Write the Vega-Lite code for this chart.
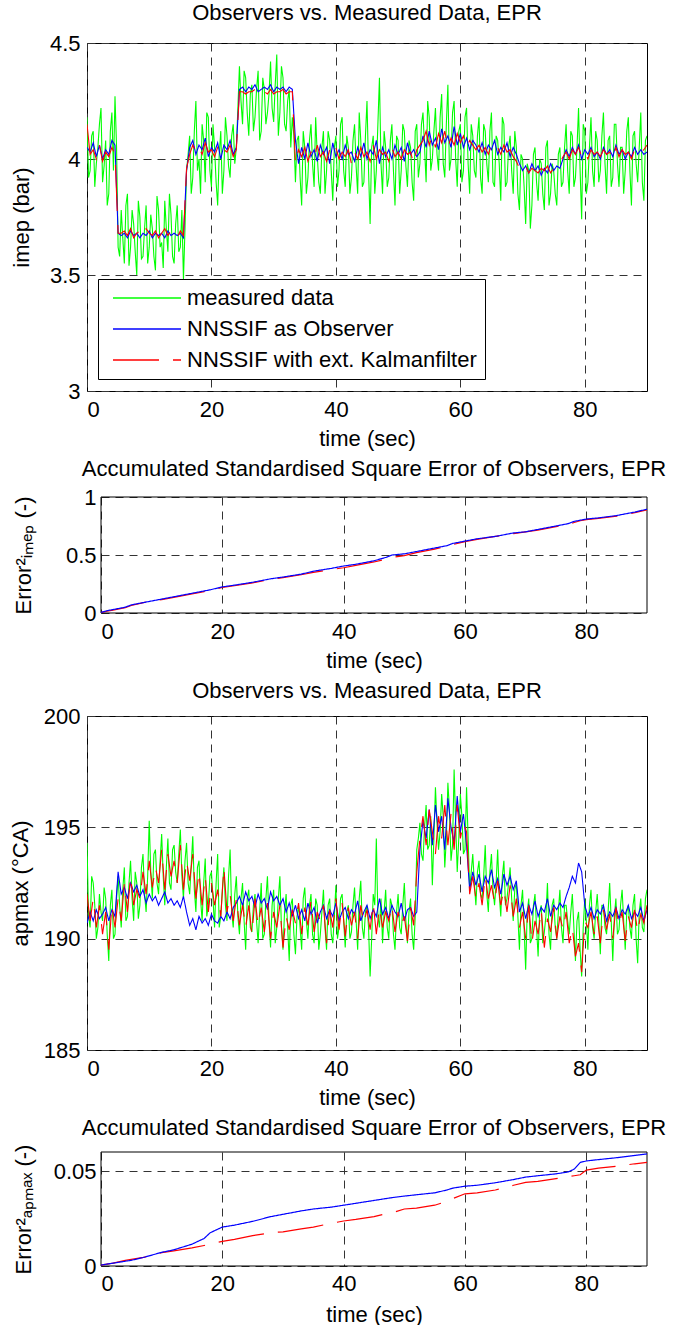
{
"$schema": "https://vega.github.io/schema/vega-lite/v6.json",
"padding": {"left": 8, "top": 1, "right": 0, "bottom": 0},
"background": "white",
"config": {
  "font": "Liberation Sans",
  "view": {"stroke": "black", "strokeWidth": 1},
  "mark": {"invalid": "filter"},
  "axis": {"labelFontSize": 22, "titleFontSize": 22, "titleFontWeight": "normal", "labelColor": "black", "titleColor": "black", "gridColor": "#333333", "gridDash": [8, 6], "gridWidth": 1, "gridOpacity": 1, "ticks": false, "domain": false, "labelFont": "Liberation Sans", "titleFont": "Liberation Sans"},
  "title": {"fontSize": 22, "fontWeight": "normal", "color": "black", "frame": "group", "offset": 5, "font": "Liberation Sans"}
},
"datasets": {
"obs": [
{"t":0,"im":4.18,"io":4.05,"ik":4.15,"am":194.3,"ao":190.7,"ak":192.0},
{"t":0.5,"im":3.95,"io":4.03,"ik":4.02,"am":190.5,"ao":191.2,"ak":190.8},
{"t":1,"im":4.12,"io":4.07,"ik":4.04,"am":192.5,"ao":190.8,"ak":191.8},
{"t":1.5,"im":3.98,"io":4.01,"ik":4.00,"am":190.0,"ao":191.3,"ak":190.5},
{"t":2,"im":4.15,"io":4.06,"ik":4.06,"am":192.0,"ao":190.9,"ak":191.5},
{"t":2.5,"im":3.90,"io":4.00,"ik":3.99,"am":190.8,"ao":191.1,"ak":190.2},
{"t":3,"im":4.08,"io":4.04,"ik":4.03,"am":191.8,"ao":191.4,"ak":191.2},
{"t":3.5,"im":3.85,"io":4.02,"ik":4.01,"am":189.0,"ao":190.8,"ak":189.5},
{"t":4,"im":4.20,"io":4.08,"ik":4.05,"am":192.2,"ao":191.3,"ak":191.5},
{"t":4.5,"im":4.27,"io":4.06,"ik":4.02,"am":190.2,"ao":191.0,"ak":190.5},
{"t":5,"im":3.62,"io":3.68,"ik":3.68,"am":192.8,"ao":193.0,"ak":191.8},
{"t":5.5,"im":3.78,"io":3.67,"ik":3.68,"am":190.5,"ao":192.0,"ak":190.8},
{"t":6,"im":3.55,"io":3.68,"ik":3.69,"am":193.2,"ao":192.3,"ak":192.5},
{"t":6.5,"im":3.85,"io":3.66,"ik":3.67,"am":191.0,"ao":191.8,"ak":191.2},
{"t":7,"im":3.62,"io":3.69,"ik":3.70,"am":193.5,"ao":192.5,"ak":192.8},
{"t":7.5,"im":3.72,"io":3.67,"ik":3.66,"am":190.8,"ao":192.1,"ak":191.5},
{"t":8,"im":3.50,"io":3.68,"ik":3.68,"am":192.5,"ao":192.4,"ak":192.2},
{"t":8.5,"im":3.75,"io":3.66,"ik":3.69,"am":191.5,"ao":191.9,"ak":191.8},
{"t":9,"im":3.58,"io":3.68,"ik":3.67,"am":193.8,"ao":192.2,"ak":193.0},
{"t":9.5,"im":3.80,"io":3.67,"ik":3.70,"am":191.2,"ao":191.6,"ak":192.0},
{"t":10,"im":3.62,"io":3.69,"ik":3.68,"am":195.3,"ao":192.0,"ak":193.5},
{"t":10.5,"im":3.70,"io":3.66,"ik":3.67,"am":191.8,"ao":191.7,"ak":192.3},
{"t":11,"im":3.52,"io":3.68,"ik":3.69,"am":194.0,"ao":191.9,"ak":193.2},
{"t":11.5,"im":3.78,"io":3.67,"ik":3.66,"am":192.0,"ao":191.5,"ak":192.5},
{"t":12,"im":3.64,"io":3.68,"ik":3.68,"am":194.7,"ao":191.8,"ak":194.0},
{"t":12.5,"im":3.82,"io":3.66,"ik":3.70,"am":191.5,"ao":192.1,"ak":192.2},
{"t":13,"im":3.60,"io":3.69,"ik":3.67,"am":194.5,"ao":191.6,"ak":193.8},
{"t":13.5,"im":3.76,"io":3.67,"ik":3.69,"am":192.2,"ao":191.8,"ak":192.8},
{"t":14,"im":3.55,"io":3.68,"ik":3.68,"am":194.2,"ao":191.5,"ak":193.5},
{"t":14.5,"im":3.80,"io":3.67,"ik":3.66,"am":192.5,"ao":191.7,"ak":192.5},
{"t":15,"im":3.62,"io":3.68,"ik":3.69,"am":194.9,"ao":191.4,"ak":194.2},
{"t":15.5,"im":3.48,"io":3.66,"ik":3.67,"am":191.8,"ao":191.9,"ak":192.2},
{"t":16,"im":3.95,"io":3.95,"ik":3.96,"am":194.3,"ao":191.2,"ak":193.5},
{"t":16.5,"im":4.10,"io":4.05,"ik":4.02,"am":192.0,"ao":190.6,"ak":192.6},
{"t":17,"im":3.92,"io":4.08,"ik":4.06,"am":194.6,"ao":190.9,"ak":193.8},
{"t":17.5,"im":4.25,"io":4.02,"ik":4.03,"am":191.2,"ao":190.4,"ak":191.8},
{"t":18,"im":4.00,"io":4.06,"ik":4.05,"am":193.5,"ao":191.0,"ak":193.0},
{"t":18.5,"im":4.15,"io":4.04,"ik":4.02,"am":190.8,"ao":190.7,"ak":191.5},
{"t":19,"im":3.90,"io":4.09,"ik":4.07,"am":193.6,"ao":190.9,"ak":192.8},
{"t":19.5,"im":4.18,"io":4.01,"ik":4.03,"am":191.5,"ao":190.6,"ak":191.2},
{"t":20,"im":3.88,"io":4.05,"ik":4.04,"am":193.0,"ao":191.1,"ak":192.5},
{"t":20.5,"im":4.05,"io":4.03,"ik":4.01,"am":190.5,"ao":190.8,"ak":191.5},
{"t":21,"im":3.80,"io":4.07,"ik":4.05,"am":193.8,"ao":190.7,"ak":192.2},
{"t":21.5,"im":4.12,"io":4.00,"ik":4.02,"am":191.0,"ao":191.0,"ak":191.0},
{"t":22,"im":3.95,"io":4.06,"ik":4.04,"am":193.2,"ao":190.8,"ak":193.2},
{"t":22.5,"im":4.10,"io":4.04,"ik":4.03,"am":190.8,"ao":191.2,"ak":191.2},
{"t":23,"im":3.92,"io":4.08,"ik":4.06,"am":194.0,"ao":190.9,"ak":192.0},
{"t":23.5,"im":4.15,"io":4.02,"ik":4.01,"am":190.5,"ao":191.4,"ak":190.8},
{"t":24,"im":4.05,"io":4.05,"ik":4.04,"am":192.8,"ao":191.6,"ak":191.8},
{"t":24.5,"im":4.40,"io":4.30,"ik":4.29,"am":190.2,"ao":191.9,"ak":190.6},
{"t":25,"im":4.15,"io":4.31,"ik":4.29,"am":192.5,"ao":191.5,"ak":191.5},
{"t":25.5,"im":4.35,"io":4.29,"ik":4.28,"am":189.5,"ao":192.1,"ak":190.5},
{"t":26,"im":4.10,"io":4.31,"ik":4.29,"am":192.2,"ao":191.7,"ak":191.5},
{"t":26.5,"im":4.32,"io":4.30,"ik":4.29,"am":190.3,"ao":191.9,"ak":190.2},
{"t":27,"im":4.18,"io":4.32,"ik":4.30,"am":192.0,"ao":191.4,"ak":191.8},
{"t":27.5,"im":4.38,"io":4.29,"ik":4.28,"am":189.8,"ao":192.0,"ak":190.6},
{"t":28,"im":4.12,"io":4.30,"ik":4.29,"am":192.5,"ao":191.6,"ak":191.4},
{"t":28.5,"im":4.30,"io":4.31,"ik":4.29,"am":190.2,"ao":191.8,"ak":190.3},
{"t":29,"im":4.20,"io":4.30,"ik":4.28,"am":192.8,"ao":191.3,"ak":191.6},
{"t":29.5,"im":4.42,"io":4.32,"ik":4.30,"am":189.6,"ao":192.1,"ak":190.0},
{"t":30,"im":4.16,"io":4.29,"ik":4.28,"am":192.2,"ao":191.7,"ak":191.2},
{"t":30.5,"im":4.45,"io":4.31,"ik":4.29,"am":190.5,"ao":191.9,"ak":190.5},
{"t":31,"im":4.20,"io":4.30,"ik":4.29,"am":192.8,"ao":191.5,"ak":191.5},
{"t":31.5,"im":4.35,"io":4.31,"ik":4.30,"am":189.5,"ao":191.8,"ak":189.6},
{"t":32,"im":4.12,"io":4.29,"ik":4.28,"am":192.0,"ao":191.2,"ak":191.0},
{"t":32.5,"im":4.30,"io":4.31,"ik":4.29,"am":189.0,"ao":191.6,"ak":190.4},
{"t":33,"im":4.18,"io":4.30,"ik":4.29,"am":191.8,"ao":191.0,"ak":191.3},
{"t":33.5,"im":3.90,"io":4.08,"ik":3.98,"am":189.3,"ao":191.5,"ak":190.7},
{"t":34,"im":4.10,"io":3.98,"ik":4.04,"am":191.5,"ao":190.9,"ak":191.6},
{"t":34.5,"im":3.80,"io":4.05,"ik":4.01,"am":189.5,"ao":191.3,"ak":190.2},
{"t":35,"im":4.05,"io":4.00,"ik":4.05,"am":192.3,"ao":190.8,"ak":191.4},
{"t":35.5,"im":3.92,"io":4.07,"ik":3.99,"am":190.0,"ao":191.6,"ak":190.6},
{"t":36,"im":4.15,"io":4.01,"ik":4.03,"am":192.0,"ao":191.1,"ak":191.7},
{"t":36.5,"im":3.88,"io":4.04,"ik":4.00,"am":189.8,"ao":191.4,"ak":190.3},
{"t":37,"im":4.02,"io":3.99,"ik":4.06,"am":191.5,"ao":190.7,"ak":191.2},
{"t":37.5,"im":3.85,"io":4.06,"ik":4.01,"am":190.2,"ao":191.2,"ak":190.8},
{"t":38,"im":4.12,"io":4.02,"ik":4.03,"am":192.2,"ao":191.5,"ak":191.5},
{"t":38.5,"im":3.95,"io":4.05,"ik":3.99,"am":189.5,"ao":190.9,"ak":189.8},
{"t":39,"im":4.08,"io":3.98,"ik":4.04,"am":191.8,"ao":191.3,"ak":191.3},
{"t":39.5,"im":3.82,"io":4.07,"ik":4.02,"am":189.8,"ao":191.0,"ak":190.5},
{"t":40,"im":4.10,"io":4.01,"ik":4.05,"am":192.4,"ao":191.6,"ak":191.8},
{"t":40.5,"im":3.95,"io":4.04,"ik":4.00,"am":190.5,"ao":190.8,"ak":190.4},
{"t":41,"im":4.18,"io":4.00,"ik":4.03,"am":192.0,"ao":191.2,"ak":191.6},
{"t":41.5,"im":3.88,"io":4.06,"ik":4.01,"am":189.6,"ao":191.4,"ak":190.1},
{"t":42,"im":4.05,"io":4.02,"ik":4.04,"am":191.5,"ao":190.9,"ak":191.4},
{"t":42.5,"im":3.92,"io":4.03,"ik":3.98,"am":190.3,"ao":191.3,"ak":190.6},
{"t":43,"im":4.15,"io":3.99,"ik":4.03,"am":192.3,"ao":191.1,"ak":191.2},
{"t":43.5,"im":3.85,"io":4.05,"ik":4.00,"am":189.5,"ao":191.7,"ak":190.0},
{"t":44,"im":4.08,"io":4.01,"ik":4.05,"am":192.6,"ao":190.8,"ak":191.5},
{"t":44.5,"im":3.90,"io":4.07,"ik":4.01,"am":190.0,"ao":191.2,"ak":190.7},
{"t":45,"im":4.25,"io":4.00,"ik":4.03,"am":191.5,"ao":191.5,"ak":191.3},
{"t":45.5,"im":3.72,"io":4.04,"ik":3.99,"am":188.3,"ao":190.9,"ak":190.4},
{"t":46,"im":4.10,"io":4.02,"ik":4.06,"am":192.0,"ao":191.3,"ak":191.6},
{"t":46.5,"im":3.95,"io":4.08,"ik":4.00,"am":194.5,"ao":191.0,"ak":190.2},
{"t":47,"im":4.35,"io":3.98,"ik":4.04,"am":190.5,"ao":191.8,"ak":191.4},
{"t":47.5,"im":3.85,"io":4.05,"ik":4.02,"am":189.8,"ao":191.1,"ak":190.5},
{"t":48,"im":4.05,"io":4.01,"ik":4.03,"am":192.2,"ao":191.4,"ak":191.2},
{"t":48.5,"im":3.92,"io":4.04,"ik":3.99,"am":190.0,"ao":190.9,"ak":190.8},
{"t":49,"im":4.15,"io":4.00,"ik":4.05,"am":191.5,"ao":191.5,"ak":191.5},
{"t":49.5,"im":3.80,"io":4.06,"ik":4.01,"am":189.5,"ao":191.2,"ak":190.3},
{"t":50,"im":4.08,"io":4.02,"ik":4.03,"am":192.0,"ao":191.0,"ak":191.2},
{"t":50.5,"im":3.95,"io":4.05,"ik":4.00,"am":190.2,"ao":191.6,"ak":190.6},
{"t":51,"im":4.12,"io":3.99,"ik":4.04,"am":192.5,"ao":190.8,"ak":191.0},
{"t":51.5,"im":3.88,"io":4.07,"ik":4.02,"am":189.8,"ao":191.3,"ak":189.9},
{"t":52,"im":4.05,"io":4.02,"ik":4.03,"am":191.8,"ao":191.4,"ak":191.4},
{"t":52.5,"im":3.82,"io":4.04,"ik":3.98,"am":189.5,"ao":191.0,"ak":190.6},
{"t":53,"im":4.15,"io":4.01,"ik":4.04,"am":194.0,"ao":191.2,"ak":193.0},
{"t":53.5,"im":3.98,"io":4.03,"ik":4.06,"am":195.2,"ao":194.0,"ak":194.5},
{"t":54,"im":4.20,"io":4.10,"ik":4.08,"am":193.5,"ao":195.3,"ak":195.5},
{"t":54.5,"im":3.90,"io":4.05,"ik":4.12,"am":196.0,"ao":194.5,"ak":194.2},
{"t":55,"im":4.18,"io":4.12,"ik":4.06,"am":194.2,"ao":195.8,"ak":195.8},
{"t":55.5,"im":4.00,"io":4.06,"ik":4.10,"am":192.4,"ao":194.2,"ak":194.8},
{"t":56,"im":4.22,"io":4.09,"ik":4.05,"am":196.8,"ao":196.0,"ak":193.8},
{"t":56.5,"im":3.95,"io":4.04,"ik":4.11,"am":194.0,"ao":194.8,"ak":195.5},
{"t":57,"im":4.28,"io":4.13,"ik":4.07,"am":196.5,"ao":195.5,"ak":194.5},
{"t":57.5,"im":3.92,"io":4.07,"ik":4.12,"am":193.2,"ao":194.0,"ak":196.0},
{"t":58,"im":4.32,"io":4.10,"ik":4.05,"am":197.0,"ao":196.3,"ak":194.2},
{"t":58.5,"im":4.00,"io":4.05,"ik":4.09,"am":193.5,"ao":195.0,"ak":195.6},
{"t":59,"im":4.25,"io":4.14,"ik":4.06,"am":197.6,"ao":194.3,"ak":194.0},
{"t":59.5,"im":3.88,"io":4.06,"ik":4.11,"am":193.0,"ao":196.4,"ak":196.0},
{"t":60,"im":4.15,"io":4.11,"ik":4.07,"am":196.5,"ao":194.8,"ak":194.5},
{"t":60.5,"im":3.95,"io":4.05,"ik":4.10,"am":193.8,"ao":195.6,"ak":195.2},
{"t":61,"im":4.22,"io":4.09,"ik":4.05,"am":196.8,"ao":194.2,"ak":194.8},
{"t":61.5,"im":3.85,"io":4.04,"ik":4.08,"am":192.2,"ao":192.2,"ak":192.0},
{"t":62,"im":4.10,"io":4.08,"ik":4.06,"am":193.8,"ao":193.0,"ak":192.8},
{"t":62.5,"im":3.92,"io":4.06,"ik":4.04,"am":191.5,"ao":192.4,"ak":191.8},
{"t":63,"im":4.18,"io":4.03,"ik":4.06,"am":193.5,"ao":192.9,"ak":192.5},
{"t":63.5,"im":3.85,"io":4.07,"ik":4.03,"am":191.8,"ao":192.1,"ak":191.5},
{"t":64,"im":4.12,"io":4.02,"ik":4.05,"am":194.2,"ao":192.8,"ak":192.8},
{"t":64.5,"im":3.90,"io":4.06,"ik":4.02,"am":191.2,"ao":192.5,"ak":191.8},
{"t":65,"im":4.20,"io":4.04,"ik":4.06,"am":193.8,"ao":193.1,"ak":192.4},
{"t":65.5,"im":3.88,"io":4.08,"ik":4.04,"am":191.5,"ao":192.3,"ak":191.6},
{"t":66,"im":4.08,"io":4.02,"ik":4.05,"am":194.0,"ao":192.7,"ak":192.6},
{"t":66.5,"im":3.82,"io":4.05,"ik":4.02,"am":191.0,"ao":192.0,"ak":191.5},
{"t":67,"im":4.15,"io":4.03,"ik":4.06,"am":193.5,"ao":192.9,"ak":192.2},
{"t":67.5,"im":3.90,"io":4.07,"ik":4.03,"am":191.8,"ao":192.4,"ak":191.2},
{"t":68,"im":4.10,"io":4.01,"ik":4.04,"am":193.2,"ao":192.8,"ak":192.4},
{"t":68.5,"im":3.85,"io":4.05,"ik":4.01,"am":190.8,"ao":192.2,"ak":191.0},
{"t":69,"im":4.05,"io":4.02,"ik":3.99,"am":192.5,"ao":192.6,"ak":191.8},
{"t":69.5,"im":3.78,"io":3.98,"ik":3.96,"am":189.5,"ao":191.2,"ak":190.5},
{"t":70,"im":4.00,"io":3.95,"ik":3.95,"am":192.2,"ao":191.6,"ak":191.2},
{"t":70.5,"im":3.72,"io":3.97,"ik":3.97,"am":188.6,"ao":190.9,"ak":190.0},
{"t":71,"im":3.95,"io":3.94,"ik":3.94,"am":191.8,"ao":191.5,"ak":191.5},
{"t":71.5,"im":3.80,"io":3.98,"ik":3.96,"am":190.0,"ao":191.1,"ak":189.8},
{"t":72,"im":4.05,"io":3.95,"ik":3.95,"am":192.0,"ao":191.7,"ak":190.8},
{"t":72.5,"im":3.82,"io":3.97,"ik":3.94,"am":189.2,"ao":191.0,"ak":190.2},
{"t":73,"im":3.98,"io":3.93,"ik":3.96,"am":191.5,"ao":191.4,"ak":191.3},
{"t":73.5,"im":3.78,"io":3.96,"ik":3.95,"am":190.3,"ao":191.2,"ak":189.6},
{"t":74,"im":4.08,"io":3.94,"ik":3.97,"am":192.5,"ao":191.8,"ak":190.9},
{"t":74.5,"im":3.85,"io":3.98,"ik":3.94,"am":189.5,"ao":191.0,"ak":190.3},
{"t":75,"im":3.95,"io":3.95,"ik":3.96,"am":191.8,"ao":191.5,"ak":191.4},
{"t":75.5,"im":3.80,"io":3.97,"ik":3.97,"am":190.0,"ao":191.3,"ak":190.0},
{"t":76,"im":4.05,"io":3.96,"ik":3.98,"am":192.2,"ao":191.6,"ak":191.0},
{"t":76.5,"im":3.90,"io":4.00,"ik":4.01,"am":189.8,"ao":191.4,"ak":190.4},
{"t":77,"im":4.15,"io":4.04,"ik":4.03,"am":191.5,"ao":191.9,"ak":191.2},
{"t":77.5,"im":3.85,"io":4.01,"ik":4.00,"am":190.2,"ao":192.3,"ak":189.8},
{"t":78,"im":4.10,"io":4.05,"ik":4.04,"am":192.0,"ao":192.8,"ak":190.5},
{"t":78.5,"im":3.92,"io":4.02,"ik":4.02,"am":189.0,"ao":192.5,"ak":189.2},
{"t":79,"im":4.22,"io":4.06,"ik":4.05,"am":191.2,"ao":193.4,"ak":189.8},
{"t":79.5,"im":3.74,"io":4.00,"ik":4.01,"am":188.3,"ao":193.0,"ak":188.5},
{"t":80,"im":4.12,"io":4.04,"ik":4.03,"am":191.8,"ao":191.5,"ak":190.8},
{"t":80.5,"im":3.90,"io":4.02,"ik":4.00,"am":189.5,"ao":191.0,"ak":190.5},
{"t":81,"im":4.18,"io":4.05,"ik":4.04,"am":192.2,"ao":191.4,"ak":191.2},
{"t":81.5,"im":3.88,"io":4.01,"ik":4.02,"am":190.0,"ao":190.9,"ak":190.2},
{"t":82,"im":4.08,"io":4.03,"ik":4.03,"am":192.0,"ao":191.3,"ak":191.0},
{"t":82.5,"im":3.95,"io":4.00,"ik":4.01,"am":189.3,"ao":191.1,"ak":189.8},
{"t":83,"im":4.20,"io":4.05,"ik":4.04,"am":191.5,"ao":191.5,"ak":191.3},
{"t":83.5,"im":3.85,"io":4.02,"ik":4.02,"am":190.2,"ao":190.8,"ak":190.4},
{"t":84,"im":4.10,"io":4.04,"ik":4.03,"am":192.5,"ao":191.2,"ak":191.1},
{"t":84.5,"im":3.92,"io":4.01,"ik":4.00,"am":189.0,"ao":191.0,"ak":190.0},
{"t":85,"im":4.15,"io":4.06,"ik":4.05,"am":191.8,"ao":191.4,"ak":191.4},
{"t":85.5,"im":3.88,"io":4.02,"ik":4.01,"am":190.4,"ao":190.9,"ak":190.6},
{"t":86,"im":4.05,"io":4.04,"ik":4.04,"am":192.2,"ao":191.3,"ak":191.2},
{"t":86.5,"im":3.95,"io":4.00,"ik":4.02,"am":189.5,"ao":191.1,"ak":189.9},
{"t":87,"im":4.18,"io":4.03,"ik":4.03,"am":191.5,"ao":191.5,"ak":191.0},
{"t":87.5,"im":3.80,"io":4.01,"ik":4.00,"am":190.0,"ao":190.9,"ak":190.5},
{"t":88,"im":4.12,"io":4.05,"ik":4.04,"am":192.0,"ao":191.2,"ak":191.3},
{"t":88.5,"im":3.90,"io":4.02,"ik":4.02,"am":188.9,"ao":191.0,"ak":190.3},
{"t":89,"im":4.20,"io":4.04,"ik":4.03,"am":191.8,"ao":191.4,"ak":191.1},
{"t":89.5,"im":3.82,"io":4.02,"ik":4.04,"am":190.3,"ao":190.8,"ak":190.7},
{"t":90,"im":4.10,"io":4.03,"ik":4.06,"am":192.2,"ao":191.3,"ak":191.5},
{"t":0.25,"im":3.92,"am":191.0},{"t":0.75,"im":4.10,"am":192.8},{"t":1.25,"im":3.88,"am":191.5},{"t":1.75,"im":4.05,"am":190.5},
{"t":2.25,"im":4.22,"am":191.2},{"t":2.75,"im":3.97,"am":192.3},{"t":3.25,"im":3.80,"am":190.2},{"t":3.75,"im":4.12,"am":191.5},
{"t":4.25,"im":3.95,"am":190.0},{"t":4.75,"im":4.05,"am":191.8},{"t":5.25,"im":3.58,"am":191.5},{"t":5.75,"im":3.66,"am":192.2},
{"t":6.25,"im":3.80,"am":190.8},{"t":6.75,"im":3.54,"am":192.5},{"t":7.25,"im":3.78,"am":191.8},{"t":7.75,"im":3.60,"am":193.0},
{"t":8.25,"im":3.82,"am":190.9},{"t":8.75,"im":3.57,"am":193.2},{"t":9.25,"im":3.70,"am":192.0},{"t":9.75,"im":3.55,"am":192.8},
{"t":10.25,"im":3.76,"am":193.0},{"t":10.75,"im":3.58,"am":193.8},{"t":11.25,"im":3.84,"am":192.5},{"t":11.75,"im":3.62,"am":193.5},
{"t":12.25,"im":3.53,"am":192.8},{"t":12.75,"im":3.70,"am":193.2},{"t":13.25,"im":3.85,"am":192.5},{"t":13.75,"im":3.58,"am":194.0},
{"t":14.25,"im":3.72,"am":193.0},{"t":14.75,"im":3.60,"am":193.8},{"t":15.25,"im":3.78,"am":192.8},{"t":15.75,"im":3.70,"am":193.5},
{"t":16.25,"im":4.02,"am":192.5},{"t":16.75,"im":3.85,"am":193.3},{"t":17.25,"im":4.12,"am":192.2},{"t":17.75,"im":3.95,"am":193.2},
{"t":18.25,"im":3.85,"am":191.8},{"t":18.75,"im":4.08,"am":192.5},{"t":19.25,"im":4.20,"am":191.0},{"t":19.75,"im":3.95,"am":192.8},
{"t":20.25,"im":4.15,"am":191.8},{"t":20.75,"im":3.90,"am":192.5},{"t":21.25,"im":4.02,"am":190.5},{"t":21.75,"im":3.85,"am":192.2},
{"t":22.25,"im":4.18,"am":191.5},{"t":22.75,"im":3.97,"am":192.8},{"t":23.25,"im":4.10,"am":191.2},{"t":23.75,"im":3.98,"am":192.0},
{"t":24.25,"im":4.22,"am":191.0},{"t":24.75,"im":4.25,"am":191.8},{"t":25.25,"im":4.38,"am":190.8},{"t":25.75,"im":4.20,"am":191.8},
{"t":26.25,"im":4.28,"am":190.5},{"t":26.75,"im":4.12,"am":191.5},{"t":27.25,"im":4.30,"am":190.8},{"t":27.75,"im":4.08,"am":191.2},
{"t":28.25,"im":4.35,"am":190.0},{"t":28.75,"im":4.15,"am":191.8},{"t":29.25,"im":4.28,"am":190.8},{"t":29.75,"im":4.22,"am":191.5},
{"t":30.25,"im":4.32,"am":189.8},{"t":30.75,"im":4.10,"am":191.8},{"t":31.25,"im":4.40,"am":190.5},{"t":31.75,"im":4.15,"am":191.2},
{"t":32.25,"im":4.25,"am":190.5},{"t":32.75,"im":4.05,"am":191.5},{"t":33.25,"im":4.10,"am":190.2},{"t":33.75,"im":4.08,"am":191.0},
{"t":34.25,"im":3.92,"am":190.5},{"t":34.75,"im":4.12,"am":191.8},{"t":35.25,"im":3.85,"am":190.8},{"t":35.75,"im":4.08,"am":191.5},
{"t":36.25,"im":3.98,"am":190.2},{"t":36.75,"im":4.18,"am":191.8},{"t":37.25,"im":3.90,"am":189.5},{"t":37.75,"im":4.05,"am":191.2},
{"t":38.25,"im":3.85,"am":190.5},{"t":38.75,"im":4.12,"am":191.5},{"t":39.25,"im":3.95,"am":190.2},{"t":39.75,"im":4.05,"am":191.0},
{"t":40.25,"im":3.88,"am":190.0},{"t":40.75,"im":4.15,"am":191.8},{"t":41.25,"im":3.95,"am":190.8},{"t":41.75,"im":4.10,"am":191.2},
{"t":42.25,"im":3.85,"am":190.0},{"t":42.75,"im":4.08,"am":191.5},{"t":43.25,"im":3.97,"am":190.8},{"t":43.75,"im":4.20,"am":191.8},
{"t":44.25,"im":3.88,"am":190.5},{"t":44.75,"im":4.10,"am":191.2},{"t":45.25,"im":3.95,"am":190.5},{"t":45.75,"im":4.05,"am":190.0},
{"t":46.25,"im":3.85,"am":191.5},{"t":46.75,"im":4.15,"am":191.0},{"t":47.25,"im":3.98,"am":191.8},{"t":47.75,"im":4.12,"am":191.2},
{"t":48.25,"im":3.88,"am":190.5},{"t":48.75,"im":4.08,"am":191.8},{"t":49.25,"im":3.95,"am":190.2},{"t":49.75,"im":4.10,"am":191.2},
{"t":50.25,"im":3.85,"am":190.5},{"t":50.75,"im":4.15,"am":191.5},{"t":51.25,"im":3.97,"am":190.8},{"t":51.75,"im":4.08,"am":191.2},
{"t":52.25,"im":3.90,"am":190.2},{"t":52.75,"im":4.12,"am":191.0},{"t":53.25,"im":3.92,"am":194.5},{"t":53.75,"im":4.15,"am":193.8},
{"t":54.25,"im":4.05,"am":195.0},{"t":54.75,"im":4.25,"am":194.0},{"t":55.25,"im":3.95,"am":195.5},{"t":55.75,"im":4.12,"am":194.5},
{"t":56.25,"im":4.02,"am":195.2},{"t":56.75,"im":4.18,"am":194.8},{"t":57.25,"im":3.98,"am":195.5},{"t":57.75,"im":4.15,"am":194.5},
{"t":58.25,"im":3.95,"am":195.8},{"t":58.75,"im":4.20,"am":194.2},{"t":59.25,"im":4.00,"am":195.2},{"t":59.75,"im":4.12,"am":194.5},
{"t":60.25,"im":3.90,"am":195.5},{"t":60.75,"im":4.18,"am":194.0},{"t":61.25,"im":3.98,"am":194.5},{"t":61.75,"im":4.15,"am":193.0},
{"t":62.25,"im":3.95,"am":192.5},{"t":62.75,"im":4.10,"am":193.0},{"t":63.25,"im":3.92,"am":192.0},{"t":63.75,"im":4.15,"am":192.8},
{"t":64.25,"im":3.98,"am":192.0},{"t":64.75,"im":4.12,"am":193.0},{"t":65.25,"im":3.90,"am":192.2},{"t":65.75,"im":4.10,"am":192.5},
{"t":66.25,"im":3.98,"am":192.0},{"t":66.75,"im":4.18,"am":192.8},{"t":67.25,"im":3.88,"am":191.5},{"t":67.75,"im":4.05,"am":192.5},
{"t":68.25,"im":3.95,"am":191.8},{"t":68.75,"im":4.12,"am":192.2},{"t":69.25,"im":3.85,"am":191.0},{"t":69.75,"im":4.02,"am":191.5},
{"t":70.25,"im":3.88,"am":190.5},{"t":70.75,"im":3.98,"am":191.2},{"t":71.25,"im":3.70,"am":189.8},{"t":71.75,"im":4.02,"am":191.5},
{"t":72.25,"im":3.90,"am":190.5},{"t":72.75,"im":4.00,"am":191.2},{"t":73.25,"im":3.85,"am":189.8},{"t":73.75,"im":4.05,"am":191.0},
{"t":74.25,"im":3.80,"am":190.2},{"t":74.75,"im":3.98,"am":191.5},{"t":75.25,"im":3.85,"am":190.5},{"t":75.75,"im":4.02,"am":191.2},
{"t":76.25,"im":3.88,"am":190.5},{"t":76.75,"im":4.05,"am":191.5},{"t":77.25,"im":3.95,"am":190.8},{"t":77.75,"im":4.12,"am":191.2},
{"t":78.25,"im":3.88,"am":190.5},{"t":78.75,"im":4.05,"am":190.8},{"t":79.25,"im":3.95,"am":189.5},{"t":79.75,"im":4.15,"am":190.5},
{"t":80.25,"im":3.85,"am":190.8},{"t":80.75,"im":4.05,"am":191.5},{"t":81.25,"im":3.95,"am":190.5},{"t":81.75,"im":4.12,"am":191.2},
{"t":82.25,"im":3.90,"am":190.8},{"t":82.75,"im":4.10,"am":191.5},{"t":83.25,"im":3.98,"am":190.5},{"t":83.75,"im":4.08,"am":191.2},
{"t":84.25,"im":3.88,"am":190.8},{"t":84.75,"im":4.15,"am":191.0},{"t":85.25,"im":3.98,"am":190.2},{"t":85.75,"im":4.05,"am":191.5},
{"t":86.25,"im":3.85,"am":190.8},{"t":86.75,"im":4.12,"am":191.2},{"t":87.25,"im":3.95,"am":190.5},{"t":87.75,"im":4.10,"am":191.5},
{"t":88.25,"im":3.98,"am":190.0},{"t":88.75,"im":4.05,"am":191.2},{"t":89.25,"im":3.90,"am":190.5},{"t":89.75,"im":4.08,"am":191.8}
],
"err": [
{"t":0,"eio":0.005,"eik":0.003,"eao":0.0005,"eak":0.0005},
{"t":1,"eio":0.02,"eik":0.015,"eao":0.001,"eak":0.001},
{"t":2,"eio":0.03,"eik":0.025,"eao":0.0015,"eak":0.0015},
{"t":4,"eio":0.05,"eik":0.045,"eao":0.0025,"eak":0.003},
{"t":5,"eio":0.07,"eik":0.065,"eao":0.003,"eak":0.0035},
{"t":7,"eio":0.09,"eik":0.09,"eao":0.0045,"eak":0.0045},
{"t":10,"eio":0.12,"eik":0.115,"eao":0.0072,"eak":0.007},
{"t":12,"eio":0.14,"eik":0.135,"eao":0.0085,"eak":0.008},
{"t":15,"eio":0.17,"eik":0.165,"eao":0.0115,"eak":0.0095},
{"t":17,"eio":0.19,"eik":0.185,"eao":0.0145,"eak":0.0108},
{"t":18,"eio":0.2,"eik":0.195,"eao":0.0175,"eak":0.0115},
{"t":20,"eio":0.225,"eik":0.22,"eao":0.0205,"eak":0.013},
{"t":22,"eio":0.24,"eik":0.235,"eao":0.0215,"eak":0.014},
{"t":25,"eio":0.265,"eik":0.26,"eao":0.0235,"eak":0.016},
{"t":28,"eio":0.295,"eik":0.29,"eao":0.026,"eak":0.0175},
{"t":30,"eio":0.31,"eik":0.305,"eao":0.0272,"eak":0.018},
{"t":33,"eio":0.335,"eik":0.33,"eao":0.029,"eak":0.0195},
{"t":35,"eio":0.36,"eik":0.35,"eao":0.03,"eak":0.0205},
{"t":38,"eio":0.385,"eik":0.375,"eao":0.031,"eak":0.0225},
{"t":40,"eio":0.405,"eik":0.39,"eao":0.032,"eak":0.0237},
{"t":42,"eio":0.42,"eik":0.41,"eao":0.033,"eak":0.0245},
{"t":45,"eio":0.45,"eik":0.44,"eao":0.0345,"eak":0.026},
{"t":47,"eio":0.48,"eik":0.465,"eao":0.0355,"eak":0.0275},
{"t":48,"eio":0.5,"eik":0.48,"eao":0.036,"eak":0.028},
{"t":50,"eio":0.51,"eik":0.495,"eao":0.0368,"eak":0.03},
{"t":52,"eio":0.53,"eik":0.52,"eao":0.0375,"eak":0.0305},
{"t":55,"eio":0.56,"eik":0.55,"eao":0.0385,"eak":0.032},
{"t":57,"eio":0.58,"eik":0.575,"eao":0.04,"eak":0.034},
{"t":58,"eio":0.6,"eik":0.59,"eao":0.041,"eak":0.0355},
{"t":60,"eio":0.62,"eik":0.615,"eao":0.042,"eak":0.038},
{"t":62,"eio":0.64,"eik":0.635,"eao":0.0425,"eak":0.0385},
{"t":65,"eio":0.66,"eik":0.66,"eao":0.0438,"eak":0.04},
{"t":68,"eio":0.69,"eik":0.685,"eao":0.0455,"eak":0.0425},
{"t":70,"eio":0.7,"eik":0.7,"eao":0.0468,"eak":0.044},
{"t":72,"eio":0.72,"eik":0.715,"eao":0.0475,"eak":0.0445},
{"t":75,"eio":0.75,"eik":0.745,"eao":0.0485,"eak":0.046},
{"t":77,"eio":0.77,"eik":0.765,"eao":0.0495,"eak":0.047},
{"t":78,"eio":0.79,"eik":0.78,"eao":0.051,"eak":0.0475},
{"t":79,"eio":0.8,"eik":0.795,"eao":0.0545,"eak":0.048},
{"t":80,"eio":0.81,"eik":0.805,"eao":0.0553,"eak":0.0505},
{"t":82,"eio":0.82,"eik":0.815,"eao":0.056,"eak":0.0515},
{"t":85,"eio":0.84,"eik":0.835,"eao":0.057,"eak":0.0525},
{"t":88,"eio":0.87,"eik":0.865,"eao":0.0582,"eak":0.0538},
{"t":90,"eio":0.895,"eik":0.89,"eao":0.059,"eak":0.0545}
],
"frame2": [{"t": 0, "t2": 90, "v": 0, "v2": 1}],
"frame4": [{"t": 0, "t2": 90, "v": 0, "v2": 0.06}]
},
"concat": [
{
  "width": 560, "height": 348,
  "title": {"text": "Observers vs. Measured Data, EPR", "offset": 7},
  "data": {"name": "obs"},
  "transform": [{"fold": ["im", "io", "ik"], "as": ["s", "v"]}],
  "mark": {"type": "line", "strokeWidth": 1.1, "clip": true, "invalid": "filter"},
  "encoding": {
    "x": {"field": "t", "type": "quantitative", "scale": {"domain": [0, 90], "nice": false}, "axis": {"values": [0, 20, 40, 60, 80], "title": "time (sec)", "labelPadding": 8, "titlePadding": 8}},
    "y": {"field": "v", "type": "quantitative", "scale": {"domain": [3, 4.5], "nice": false, "zero": false}, "axis": {"values": [3, 3.5, 4, 4.5], "format": "~g", "title": "imep (bar)", "labelPadding": 7, "titlePadding": 16}},
    "color": {"field": "s", "type": "nominal", "scale": {"domain": ["im", "io", "ik"], "range": ["#00ff00", "#0000ff", "#ff0000"]},
      "legend": {"orient": "none", "legendX": 11, "legendY": 236, "title": null, "direction": "vertical", "labelExpr": "datum.label == 'im' ? 'measured data' : datum.label == 'io' ? 'NNSSIF as Observer' : 'NNSSIF with ext. Kalmanfilter'", "symbolType": "M-5,0H5", "symbolSize": 185, "symbolStrokeWidth": 1.5, "labelFontSize": 22, "labelLimit": 400, "labelOffset": 29, "rowPadding": 9, "padding": 8, "symbolOffset": 30, "strokeColor": "black", "fillColor": "white", "labelColor": "black", "labelFont": "Liberation Sans"}},
    "strokeDash": {"field": "s", "type": "nominal", "scale": {"domain": ["im", "io", "ik"], "range": [[1, 0], [1, 0], [46, 14]]},
      "legend": {"orient": "none", "legendX": 11, "legendY": 236, "title": null, "direction": "vertical", "labelExpr": "datum.label == 'im' ? 'measured data' : datum.label == 'io' ? 'NNSSIF as Observer' : 'NNSSIF with ext. Kalmanfilter'", "symbolType": "M-5,0H5", "symbolSize": 185, "symbolStrokeWidth": 1.5, "labelFontSize": 22, "labelLimit": 400, "labelOffset": 29, "rowPadding": 9, "padding": 8, "symbolOffset": 30, "strokeColor": "black", "fillColor": "white", "labelColor": "black", "labelFont": "Liberation Sans"}}
  }
},
{
  "width": 560, "height": 116,
  "view": {"stroke": null},
  "title": {"text": "Accumulated Standardised Square Error of Observers, EPR", "offset": 5, "dx": 7},
  "layer": [
    {
      "data": {"name": "frame2"},
      "mark": {"type": "rect", "fillOpacity": 0, "stroke": "black", "strokeWidth": 1},
      "encoding": {
        "x": {"field": "t", "type": "quantitative", "scale": {"domain": [0, 90], "nice": false, "range": [14, 560]}, "axis": {"values": [0, 20, 40, 60, 80], "title": "time (sec)", "labelPadding": 8, "titlePadding": 8}},
        "x2": {"field": "t2"},
        "y": {"field": "v", "type": "quantitative", "scale": {"domain": [0, 1], "nice": false}, "axis": {"values": [0, 0.5, 1], "format": "~g", "title": "Error²ᵢₘₑₚ (-)", "labelPadding": 5, "titlePadding": 30, "offset": -14}},
        "y2": {"field": "v2"}
      }
    },
    {
      "data": {"name": "err"},
      "transform": [{"fold": ["eik", "eio"], "as": ["s", "v"]}],
      "mark": {"type": "line", "strokeWidth": 1.2, "clip": true},
      "encoding": {
        "x": {"field": "t", "type": "quantitative", "scale": {"domain": [0, 90], "nice": false, "range": [14, 560]}, "axis": {"values": [0, 20, 40, 60, 80], "title": "time (sec)", "labelPadding": 8, "titlePadding": 8}},
        "y": {"field": "v", "type": "quantitative", "scale": {"domain": [0, 1], "nice": false}, "axis": {"values": [0, 0.5, 1], "format": "~g", "title": "Error²ᵢₘₑₚ (-)", "labelPadding": 5, "titlePadding": 30, "offset": -14}},
        "color": {"field": "s", "type": "nominal", "scale": {"domain": ["eio", "eik"], "range": ["#0000ff", "#ff0000"]}, "legend": null},
        "strokeDash": {"field": "s", "type": "nominal", "scale": {"domain": ["eio", "eik"], "range": [[1, 0], [46, 14]]}, "legend": null}
      }
    }
  ]
},
{
  "width": 560, "height": 334,
  "title": {"text": "Observers vs. Measured Data, EPR", "offset": 2},
  "data": {"name": "obs"},
  "transform": [{"fold": ["am", "ao", "ak"], "as": ["s", "v"]}],
  "mark": {"type": "line", "strokeWidth": 1.1, "clip": true, "invalid": "filter"},
  "encoding": {
    "x": {"field": "t", "type": "quantitative", "scale": {"domain": [0, 90], "nice": false}, "axis": {"values": [0, 20, 40, 60, 80], "title": "time (sec)", "labelPadding": 8, "titlePadding": 8}},
    "y": {"field": "v", "type": "quantitative", "scale": {"domain": [185, 200], "nice": false, "zero": false}, "axis": {"values": [185, 190, 195, 200], "format": "~g", "title": "apmax (°CA)", "labelPadding": 7, "titlePadding": 11}},
    "color": {"field": "s", "type": "nominal", "scale": {"domain": ["am", "ao", "ak"], "range": ["#00ff00", "#0000ff", "#ff0000"]}, "legend": null},
    "strokeDash": {"field": "s", "type": "nominal", "scale": {"domain": ["am", "ao", "ak"], "range": [[1, 0], [1, 0], [46, 14]]}, "legend": null}
  }
},
{
  "width": 560, "height": 114,
  "view": {"stroke": null},
  "title": {"text": "Accumulated Standardised Square Error of Observers, EPR", "offset": 4, "dx": 7},
  "layer": [
    {
      "data": {"name": "frame4"},
      "mark": {"type": "rect", "fillOpacity": 0, "stroke": "black", "strokeWidth": 1},
      "encoding": {
        "x": {"field": "t", "type": "quantitative", "scale": {"domain": [0, 90], "nice": false, "range": [14, 560]}, "axis": {"values": [0, 20, 40, 60, 80], "title": "time (sec)", "labelPadding": 7, "titlePadding": 10}},
        "x2": {"field": "t2"},
        "y": {"field": "v", "type": "quantitative", "scale": {"domain": [0, 0.06], "nice": false}, "axis": {"values": [0, 0.05], "format": "~g", "title": "Error²ₐₚₘₐₓ (-)", "labelPadding": 5, "titlePadding": 18, "offset": -14}},
        "y2": {"field": "v2"}
      }
    },
    {
      "data": {"name": "err"},
      "transform": [{"fold": ["eak", "eao"], "as": ["s", "v"]}],
      "mark": {"type": "line", "strokeWidth": 1.2, "clip": true},
      "encoding": {
        "x": {"field": "t", "type": "quantitative", "scale": {"domain": [0, 90], "nice": false, "range": [14, 560]}, "axis": {"values": [0, 20, 40, 60, 80], "title": "time (sec)", "labelPadding": 7, "titlePadding": 10}},
        "y": {"field": "v", "type": "quantitative", "scale": {"domain": [0, 0.06], "nice": false}, "axis": {"values": [0, 0.05], "format": "~g", "title": "Error²ₐₚₘₐₓ (-)", "labelPadding": 5, "titlePadding": 18, "offset": -14}},
        "color": {"field": "s", "type": "nominal", "scale": {"domain": ["eao", "eak"], "range": ["#0000ff", "#ff0000"]}, "legend": null},
        "strokeDash": {"field": "s", "type": "nominal", "scale": {"domain": ["eao", "eak"], "range": [[1, 0], [46, 14]]}, "legend": null}
      }
    }
  ]
}
],
"columns": 1,
"spacing": 8,
"resolve": {"scale": {"color": "independent", "strokeDash": "independent"}, "legend": {"color": "independent", "strokeDash": "independent"}}
}
